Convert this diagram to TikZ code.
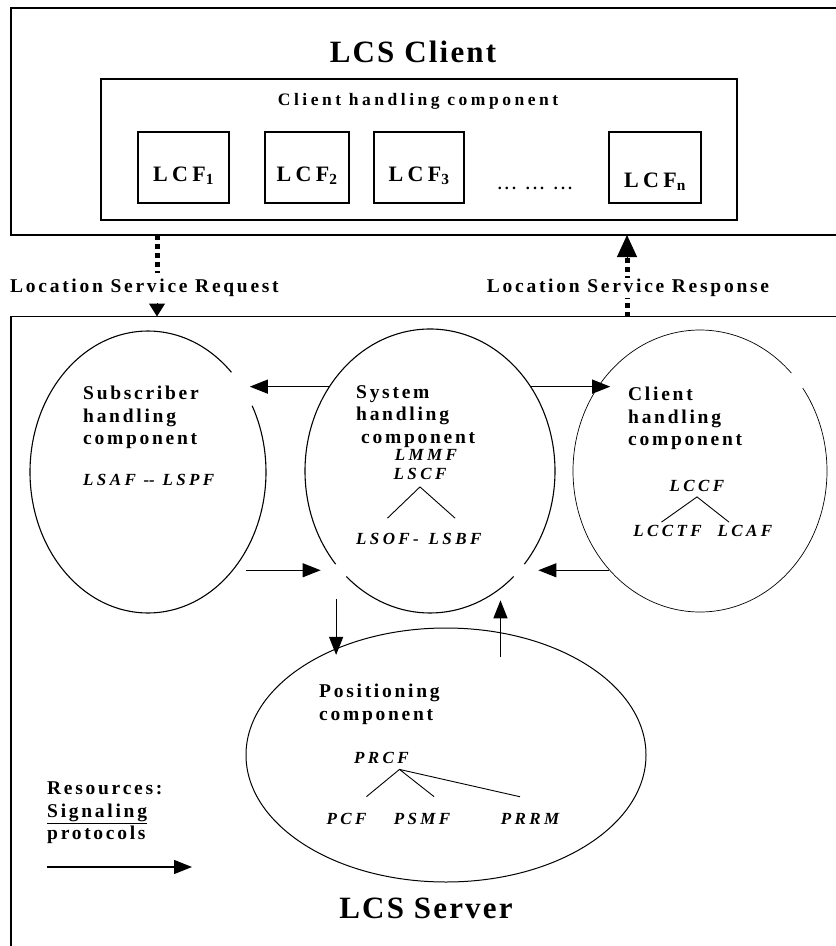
\documentclass[tikz,border=0pt]{standalone}
\usepackage{fontspec}
\setmainfont{Liberation Serif}
\newfontfamily\lsp[LetterSpace=14]{Liberation Serif}
\newfontfamily\lspw[LetterSpace=20]{Liberation Serif}
\newfontfamily\ttl[LetterSpace=7]{Liberation Serif}
\usetikzlibrary{positioning, calc, shapes.geometric, arrows.meta}

\begin{document}
\begin{tikzpicture}[x=1pt, y=-1pt, >={Triangle[length=18pt,width=14pt]},
    box/.style={draw, line width=1.5pt, inner sep=0pt, outer sep=0pt},
    lcf/.style={box, minimum height=71pt, text height=28pt, text depth=0pt,
      font=\lspw\bfseries\fontsize{22}{22}\selectfont},
    ell/.style={ellipse, inner sep=0pt, outer sep=0pt},
    lbl/.style={align=left, inner sep=0pt, font=\lsp\bfseries\fontsize{19.5}{22.5}\selectfont},
    fn/.style={inner sep=0pt, font=\lspw\bfseries\itshape\fontsize{17}{17}\selectfont},
    title/.style={inner sep=0pt, font=\ttl\bfseries\fontsize{31}{31}\selectfont},
    dotline/.style={line width=5pt, dash pattern=on 4.5pt off 4.5pt},
    arr/.style={->, line width=1.2pt}, elline/.style={line width=1.1pt}]

  \useasboundingbox (0,0) rectangle (836,946);
  \clip (0,0) rectangle (836,946);

  \node[box, anchor=north west, minimum width=850pt, minimum height=227pt] (client) at (11,8) {};
  \node[title] (clt) at (413,52) {LCS Client};
  \node[box, anchor=north west, minimum width=636pt, minimum height=141pt] (chc) at (101,79) {};
  \node[lbl, font=\lspw\bfseries\fontsize{17.5}{17.5}\selectfont] (chct) at (418,101) {Client handling component};
  \node[lcf, minimum width=91pt] (A) at (183.5,167.5) {LCF\textsubscript{1}};
  \node[lcf, minimum width=84pt] (B) at (307,167.5) {LCF\textsubscript{2}};
  \node[lcf, minimum width=90pt] (C) at (419,167.5) {LCF\textsubscript{3}};
  \node[font=\lspw\bfseries\fontsize{16}{16}\selectfont] (dots) at (535,188) {... ... ...};
  \node[lcf, minimum width=92pt, text height=40pt] (N) at (655,167.5) {LCF\textsubscript{n}};

  \node[box, anchor=north west, minimum width=850pt, minimum height=650pt] (server) at (11,316.5) {};

  \coordinate (rq) at (157,303);
  \coordinate (rs) at (627,258);
  \draw[dotline] (rq |- client.south) -- ([yshift=30pt]rq);
  \draw[-{Triangle[length=13pt,width=16pt]}, line width=1pt] (rq) -- (rq |- server.north);
  \draw[dotline] (rs) -- (rs |- server.north);
  \draw[-{Triangle[length=22pt,width=20pt]}, line width=1pt] (rs) -- (rs |- client.south);
  \node[lbl, anchor=west] (req) at (10,288) {Location Service Request};
  \node[lbl, fill=white, inner sep=1pt] (rsp) at (628,288) {Location Service Response};

  \node[ell, minimum width=236pt, minimum height=282pt] (sub) at (148,472) {};
  \node[ell, minimum width=250pt, minimum height=284pt] (sys) at (430,471) {};
  \node[ell, minimum width=254pt, minimum height=282pt] (cli) at (700,471) {};
  \node[ell, draw, line width=1pt, minimum width=400pt, minimum height=254pt] (pos) at (446,755) {};
  \draw[elline] ([shift={(45:118pt and 141pt)}]sub.center)
    arc[start angle=45, end angle=388, x radius=118pt, y radius=141pt];
  \draw[elline] ([shift={(-41:125pt and 142pt)}]sys.center)
    arc[start angle=-41, end angle=221, x radius=125pt, y radius=142pt];
  \draw[elline] ([shift={(228:125pt and 142pt)}]sys.center)
    arc[start angle=228, end angle=312, x radius=125pt, y radius=142pt];
  \draw[line width=0.7pt] ([shift={(44:127pt and 141pt)}]cli.center)
    arc[start angle=44, end angle=396, x radius=127pt, y radius=141pt];

  \node[lbl, anchor=north west] (subt) at (83,386) {Subscriber\\handling\\component};
  \node[fn, anchor=west] (lsaf) at (83,480) {LSAF -\kern0pt- LSPF};

  \node[lbl, anchor=north west] (syst) at (356,385) {System\\handling\\\hspace*{5pt}component};
  \node[fn] (lmmf) at (426,455) {LMMF};
  \node[fn] (lscf) at (420,474) {LSCF};
  \node[fn] (lsof) at (387.5,539) {LSOF-};
  \node[fn] (lsbf) at (455,539) {LSBF};
  \draw[line width=0.9pt] ([yshift=15pt]lsof.north) -- ([yshift=-7pt]lscf.south) -- ([yshift=15pt]lsbf.north);

  \node[lbl, anchor=north west] (clit) at (628,387) {Client\\handling\\component};
  \node[fn] (lccf) at (697,486) {LCCF};
  \node[fn] (lcctf) at (667.5,531) {LCCTF};
  \node[fn] (lcaf) at (745,531) {LCAF};
  \draw[line width=0.9pt] ([xshift=-6pt,yshift=3pt]lcctf.north) -- ([yshift=-5pt]lccf.south)
    -- ([xshift=-16pt,yshift=3pt]lcaf.north);

  \node[lbl, anchor=north west] (post) at (319,684) {Positioning\\component};
  \node[fn] (prcf) at (381.5,757.5) {PRCF};
  \node[fn] (pcf) at (346.5,818.5) {PCF};
  \node[fn] (psmf) at (422,818.5) {PSMF};
  \node[fn] (prrm) at (530,818.5) {PRRM};
  \draw[line width=0.9pt] ([xshift=20pt,yshift=16pt]pcf.north) -- ([xshift=18pt,yshift=-6pt]prcf.south)
    -- ([xshift=12pt,yshift=16pt]psmf.north);
  \draw[line width=0.9pt] ([xshift=18pt,yshift=-6pt]prcf.south) -- ([xshift=-10pt,yshift=16pt]prrm.north);

  \draw[arr] (sys.140) -- (sys.140 -| sub.35);
  \draw[arr] (sys.40) -- (sys.40 -| cli.132);
  \draw[arr] (sub.-39 |- sys.-132) -- ([xshift=-20pt]sys.-132);
  \draw[arr] (cli.-133 |- sys.-48) -- ([xshift=19pt]sys.-48);
  \draw[arr] ([yshift=14pt]pos.136 |- sys.south) -- ([yshift=-6pt]pos.136);
  \draw[arr] ([yshift=-29pt]sys.-59 |- pos.north) -- ([yshift=-12pt]sys.-59);

  \node[lbl, anchor=north west] (res) at (47,782) {Resources:\\\underline{Signaling}\\protocols};
  \coordinate (lg) at (47,867);
  \coordinate (lge) at (192,867);
  \draw[arr] (lg) -- (lge);
  \node[title] (srv) at (426,908) {LCS Server};
\end{tikzpicture}
\end{document}
